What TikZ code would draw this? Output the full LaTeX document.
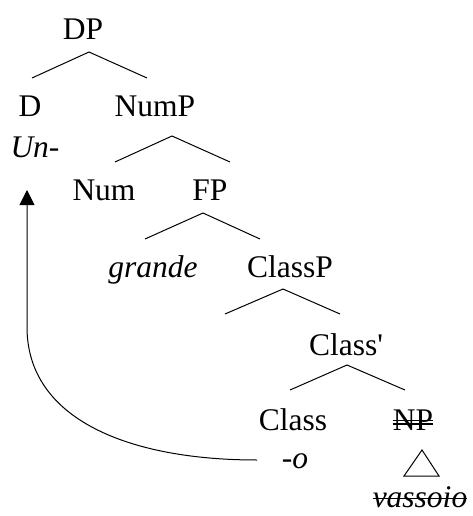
\documentclass[tikz,border=0pt]{standalone}
\usepackage{fontspec}
\setmainfont{Liberation Serif}
\newfontfamily\plainserif{Liberation Serif}
\usetikzlibrary{arrows.meta}
\begin{document}
\begin{tikzpicture}[x=1pt,y=-1pt,
  lbl/.style={anchor=base,inner sep=0pt,font=\fontsize{31.5}{36}\selectfont},
  ilbl/.style={lbl,font=\fontsize{31.5}{36}\selectfont\itshape},
  branch/.style={line width=1pt},
  strike/.style={line width=1.2pt}]
\useasboundingbox (0,0) rectangle (473,516);
% labels
\node[lbl] (dp) at (83,40) {DP};
\node[lbl] (d) at (30,117) {D};
\node[lbl] (nump) at (155,117) {NumP};
\node[ilbl] (un) at (35,157) {Un-};
\node[lbl] (num) at (104,200) {Num};
\node[lbl] (fp) at (210,200) {FP};
\node[ilbl] (grande) at (153,277) {grande};
\node[lbl] (classp) at (290,277) {ClassP};
\node[lbl] (classbar) at (346,355) {\plainserif Class'};
\node[lbl] (class) at (293,430) {Class};
\node[lbl] (np) at (413,430) {NP};
\node[ilbl] (o) at (295,468) {-o};
\node[ilbl] (vassoio) at (420,507) {vassoio};
% branches
\coordinate (a1) at (89,52);  \coordinate (l1) at (32,78);  \coordinate (r1) at (147,78);
\coordinate (a2) at (172,136); \coordinate (l2) at (115,162); \coordinate (r2) at (230,162);
\coordinate (a3) at (203,213); \coordinate (l3) at (145,239); \coordinate (r3) at (260,239);
\coordinate (a4) at (283,289); \coordinate (l4) at (225,314); \coordinate (r4) at (340,314);
\coordinate (a5) at (347,365); \coordinate (l5) at (290,390); \coordinate (r5) at (405,390);
\draw[branch] (l1) -- (a1) -- (r1);
\draw[branch] (l2) -- (a2) -- (r2);
\draw[branch] (l3) -- (a3) -- (r3);
\draw[branch] (l4) -- (a4) -- (r4);
\draw[branch] (l5) -- (a5) -- (r5);
% triangle
\coordinate (ta) at (422,450); \coordinate (tl) at (404,476); \coordinate (tr) at (439,476);
\draw[branch] (ta) -- (tl) -- (tr) -- cycle;
% strikethroughs
\draw[strike] ([yshift=9.3pt]np.base west) -- ([yshift=9.3pt]np.base east);
\draw[strike] ([yshift=6pt]np.base west) -- ([yshift=6pt]np.base east);
\draw[line width=1.6pt] ([yshift=8.5pt]vassoio.base west) -- ([yshift=8.5pt]vassoio.base east);
% movement arrow
\coordinate (mstart) at (257,460);
\coordinate (mturn) at (27,327);
\coordinate (mtip) at (27,190);
\draw[line width=1pt,-{Triangle[length=15pt,width=15pt]}]
  (mstart) .. controls (130,460) and (27,420) .. (mturn) -- (mtip);
\end{tikzpicture}
\end{document}
